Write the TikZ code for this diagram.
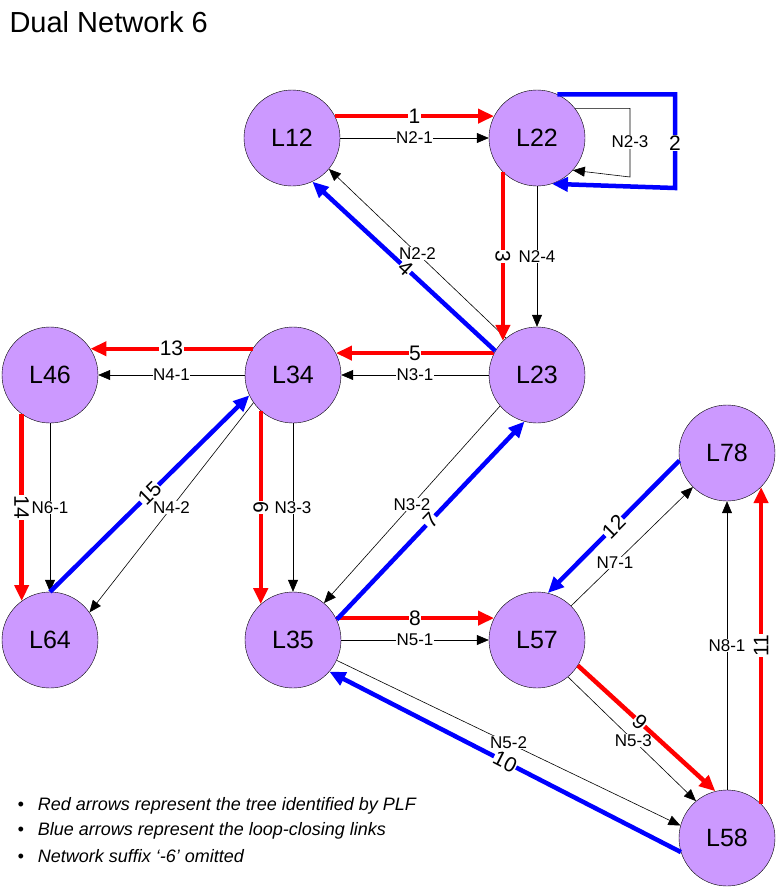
\documentclass[tikz,border=0pt]{standalone}
\usepackage{fontspec}
\setmainfont{Liberation Sans}
\usetikzlibrary{arrows.meta}
\definecolor{lilac}{RGB}{204,153,255}

\begin{document}
\begin{tikzpicture}[x=1pt,y=-1pt,
    loc/.style={circle, draw, fill=lilac, minimum size=96pt, inner sep=0pt, font=\fontsize{25}{28}\selectfont},
    net/.style={-{Triangle[length=12pt,width=10pt]}, line width=0.6pt},
    nlab/.style={fill=white, inner sep=0.5pt, font=\fontsize{17}{19}\selectfont},
    tree/.style={-{Triangle[length=16pt,width=14pt]}, line width=4.5pt, red},
    close/.style={-{Triangle[length=16pt,width=14pt]}, line width=4.5pt, blue},
    num/.style={fill=white, inner sep=0.5pt, sloped, text=black, font=\fontsize{21}{23}\selectfont}]
    \useasboundingbox (0,0) rectangle (777,889);
    \node[anchor=west, font=\fontsize{29}{32}\selectfont] (title) at (6,22) {Dual Network 6};

    % nodes
    \node[loc] (L12) at (292,138) {L12};
    \node[loc] (L22) at (537,138) {L22};
    \node[loc] (L46) at (50,375) {L46};
    \node[loc] (L34) at (293,375) {L34};
    \node[loc] (L23) at (537,375) {L23};
    \node[loc] (L78) at (727,453) {L78};
    \node[loc] (L64) at (50,640) {L64};
    \node[loc] (L35) at (293,640) {L35};
    \node[loc] (L57) at (537,640) {L57};
    \node[loc] (L58) at (727,838) {L58};

    % network links
    \draw[net] (L12) -- node[nlab] {N2-1} (L22);
    \coordinate (c23) at (630,177);
    \draw[net] (L22.38) -| (c23) -- (L22.-42);
    \node[nlab] (n23) at (630,142) {N2-3};
    \draw[net] (L23.130) -- node[nlab, pos=0.5] {N2-2} (L12.-40);
    \draw[net] (L22) -- node[nlab] {N2-4} (L23);
    \draw[net] (L23) -- node[nlab] {N3-1} (L34);
    \draw[net] (L34) -- node[nlab] {N4-1} (L46);
    \draw[net] (L46) -- node[nlab] {N6-1} (L64);
    \draw[net] (L34.215) -- node[nlab] {N4-2} (L64.35);
    \draw[net] (L34) -- node[nlab] {N3-3} (L35);
    \draw[net] (L23.220) -- node[nlab] {N3-2} (L35.50);
    \draw[net] (L35) -- node[nlab] {N5-1} (L57);
    \draw[net] (L57.45) -- node[nlab, pos=0.36] {N7-1} (L78.225);
    \draw[net] (L57.-50) -- node[nlab, pos=0.51] {N5-3} (L58.130);
    \draw[net] (L35.-25) -- node[nlab, pos=0.5] {N5-2} (L58.165);
    \draw[net] (L58) -- node[nlab] {N8-1} (L78);

    % tree links
    \draw[tree] (L12.27) -- node[num] {1} (L22.153);
    \draw[tree] (L22.225) -- node[num] {3} (L23.135);
    \draw[tree] (L23.153) -- node[num] {5} (L34.27);
    \draw[tree] (L34.147) -- node[num] {13} (L46.33);
    \draw[tree] (L46.234) -- node[num] {14} (L64.126);
    \draw[tree] (L34.228) -- node[num] {6} (L35.132);
    \draw[tree] (L35.27) -- node[num] {8} (L57.153);
    \draw[tree] (L57.-32) -- node[num, pos=0.45] {9} (L58.104);
    \draw[tree] (L58.45) -- node[num] {11} (L78.-45);

    % loop-closing links
    \coordinate (c2) at (675,188);
    \draw[close] (L22.65) -| (c2) -- (L22.-72);
    \node[fill=white, inner sep=1pt, font=\fontsize{21}{23}\selectfont] (n2) at (675,143) {2};
    \draw[close] (L23.150) -- node[num, pos=0.49] {4} (L12.295);
    \draw[close] (L64.90) -- node[num, pos=0.5] {15} (L34.205);
    \draw[close] (L35.25) -- node[num] {7} (L23.255);
    \draw[close] (L78.189) -- node[num] {12} (L57.77);
    \draw[close] (L58.197) -- node[num] {10} (L35.-41);

    % notes
    \foreach \t [count=\i] in {Red arrows represent the tree identified by PLF,
        Blue arrows represent the loop-closing links,
        Network suffix `-6' omitted}
      \node[anchor=west, font=\fontsize{18}{20}\selectfont\itshape] (note\i) at (14,781+25*\i) {\textbullet\hspace{14pt}\t};
\end{tikzpicture}
\end{document}
